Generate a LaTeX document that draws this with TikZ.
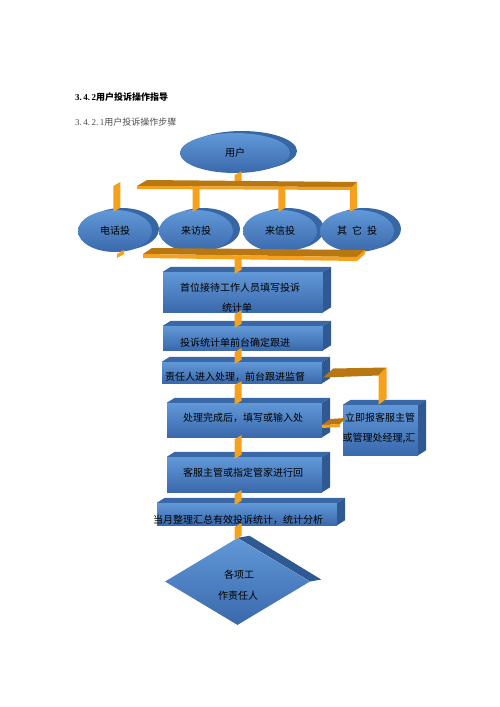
\documentclass[tikz,border=0pt]{standalone}
\usepackage{fontspec}
\setmainfont{Liberation Serif}
\newfontfamily\cjk{Noto Sans CJK SC}
\usetikzlibrary{calc,shapes.geometric,shadows,backgrounds}
\definecolor{blueL}{HTML}{6198D8}
\definecolor{blueD}{HTML}{3A69AC}
\definecolor{rimC}{HTML}{3766A4}
\definecolor{blueTop}{HTML}{3A68A6}
\definecolor{blueSide}{HTML}{2E5993}
\definecolor{orL}{HTML}{F6A11C}
\definecolor{orD}{HTML}{B87711}
\newcommand{\vplank}[3]{\fill[shaft] ($(#1 |- #2)+(-3.5,2)$) -- ($(#1 |- #2)+(3.5,-2)$) -- ($(#1 |- #3)+(3.5,-2)$) -- ($(#1 |- #3)+(-3.5,2)$) -- cycle;}
\newcommand{\boxfaces}[1]{%
  \fill[topface] (#1.north west) -- ++(8,-5) -- ($(#1.north east)+(8,-5)$) -- (#1.north east) -- cycle;
  \fill[sideface] (#1.north east) -- ++(8,-5) -- ($(#1.south east)+(8,-5)$) -- (#1.south east) -- cycle;}
\tikzset{
  blueshade/.style={top color=blueL, bottom color=blueD},
  disc/.style={ellipse, inner sep=0pt, blueshade,
    drop shadow={shadow xshift=7pt, shadow yshift=2pt, fill=rimC, opacity=1},
    font=\cjk\fontsize{10pt}{12pt}\selectfont, text=black},
  frontbox/.style={rectangle, inner sep=0pt, blueshade},
  diamondbox/.style={diamond, inner sep=0pt, blueshade},
  lbl/.style={font=\cjk\fontsize{10pt}{12pt}\selectfont, inner sep=0pt, text=black},
  topface/.style={fill=blueTop},
  sideface/.style={fill=blueSide},
  shaft/.style={fill=orL},
  bartop/.style={fill=orD},
  barfront/.style={fill=orL}
}
\begin{document}
\begin{tikzpicture}[x=1pt,y=-1pt]
\useasboundingbox (0,0) rectangle (500,707);
\begin{scope}[on background layer]
\fill[white] (0,0) rectangle (500,707);
\end{scope}

% headings
\node[anchor=west, inner sep=0pt, font=\fontsize{9pt}{11pt}\selectfont\bfseries] (h1) at (75,97) {3.\,4.\,2{\cjk\bfseries 用户投诉操作指导}};
\node[anchor=west, inner sep=0pt, text=black!70, font=\fontsize{9pt}{11pt}\selectfont] (h2) at (75,122) {3.\,4.\,2.\,1{\cjk 用户投诉操作步骤}};

% ellipses
\node[disc, minimum width=110pt, minimum height=40pt] (u) at (235,153) {用户};
\node[disc, minimum width=74pt, minimum height=42pt] (e1) at (115,231) {电话投};
\node[disc, minimum width=74pt, minimum height=42pt] (e2) at (196,231) {来访投};
\node[disc, minimum width=74pt, minimum height=42pt] (e3) at (280,231) {来信投};
\node[disc, minimum width=74pt, minimum height=42pt] (e4) at (357,231) {其\hspace{5pt}它\hspace{5pt}投};

% boxes
\node[frontbox, minimum width=160pt, minimum height=40pt] (b1) at (243,292) {};
\boxfaces{b1}
\node[frontbox, minimum width=160pt, minimum height=24pt] (b2) at (243,338) {};
\boxfaces{b2}
\node[frontbox, minimum width=160pt, minimum height=21pt] (b3) at (242,372.5) {};
\boxfaces{b3}
\node[frontbox, minimum width=155pt, minimum height=34pt] (b4) at (244.5,420) {};
\boxfaces{b4}
\node[frontbox, minimum width=155pt, minimum height=35pt] (b5) at (244.5,474.5) {};
\boxfaces{b5}
\node[frontbox, minimum width=180pt, minimum height=22pt] (b6) at (247,514) {};
\boxfaces{b6}
\node[frontbox, minimum width=75pt, minimum height=50pt] (s) at (380.5,430) {};
\boxfaces{s}

% diamond
\node[diamondbox, minimum width=145pt, minimum height=87pt] (d) at (237.5,581.5) {};
\begin{scope}[on background layer]
  \fill[blueSide] (d.north) -- ($(d.north)+(12,-2)$) -- ($(d.east)+(11,-2)$) -- (d.east) -- cycle;
\end{scope}

% labels
\node[lbl] (t1a) at (240,288) {首位接待工作人员填写投诉};
\node[lbl] (t1b) at (237,308) {统计单};
\node[lbl] (t2) at (235,343) {投诉统计单前台确定跟进};
\node[lbl] (t3) at (235,377) {责任人进入处理，前台跟进监督};
\node[lbl] (t4) at (243,418) {处理完成后，填写或输入处};
\node[lbl] (t5) at (243,473) {客服主管或指定管家进行回};
\node[lbl] (t6) at (238,520) {当月整理汇总有效投诉统计，统计分析};
\node[lbl] (ts1) at (380,418) {立即报客服主管};
\node[lbl] (ts2) at (379,438) {或管理处经理,汇};
\node[lbl] (td1) at (239,575) {各项工};
\node[lbl] (td2) at (238,596) {作责任人};

% connector coordinates
\coordinate (spine) at (238,0);
\coordinate (barU) at (238,184);
\coordinate (barD) at (238,256);

% vertical planks
\vplank{spine}{u.south}{barU}
\vplank{e1.85}{barU}{e1.85}
\vplank{e2.north}{barU}{e2.north}
\vplank{e3.85}{barU}{e3.85}
\vplank{e4.100}{barU}{e4.100}
\vplank{e1.285}{e1.285}{barD}
\vplank{e2.280}{e2.280}{barD}
\vplank{e3.south}{e3.south}{barD}
\vplank{e4.275}{e4.275}{barD}
\vplank{spine}{barD}{b1.north}
\vplank{spine}{b1.south}{b2.north}
\vplank{spine}{b2.south}{b3.north}
\vplank{spine}{b3.south}{b4.north}
\vplank{spine}{b4.south}{b5.north}
\vplank{spine}{b5.south}{b6.north}
\vplank{spine}{b6.south}{d.north}

% upper bar
\fill[bartop] (137,186) -- (147,180) -- (357,182) -- (352,187) -- cycle;
\fill[barfront] (137,186) -- (352,187) -- (352,190) -- (137,189) -- cycle;
\fill[barfront] (352,187) -- (357,182) -- (357,185) -- (352,190) -- cycle;
% lower bar
\fill[bartop] (143,254) -- (152,248) -- (365,250) -- (357,257) -- cycle;
\fill[barfront] (143,254) -- (357,257) -- (357,261) -- (143,258) -- cycle;
\fill[barfront] (357,257) -- (365,250) -- (365,254) -- (357,261) -- cycle;

% side connector from b3 to s
\fill[bartop] ($(b3.east)+(1,5)$) -- ($(b3.east)+(11,-4)$) -- ($(s.north |- b3.east)+(6,-5)$) -- ($(s.north |- b3.east)+(-2,3)$) -- cycle;
\fill[shaft] ($(s.north |- b3.east)+(-2,3)$) -- ($(s.north |- b3.east)+(6,-5)$) -- ($(s.north)+(6,-6)$) -- ($(s.north)+(-2,0)$) -- cycle;
% side connector from s to b4
\fill[bartop] ($(b4.east)+(0,5)$) -- ($(b4.east)+(8,-1)$) -- ($(s.west)+(3,-12)$) -- ($(s.west)+(-3,-6)$) -- cycle;
\fill[barfront] ($(b4.east)+(0,5)$) -- ($(s.west)+(-3,-6)$) -- ($(s.west)+(-3,-3)$) -- ($(b4.east)+(0,8)$) -- cycle;
\end{tikzpicture}
\end{document}
